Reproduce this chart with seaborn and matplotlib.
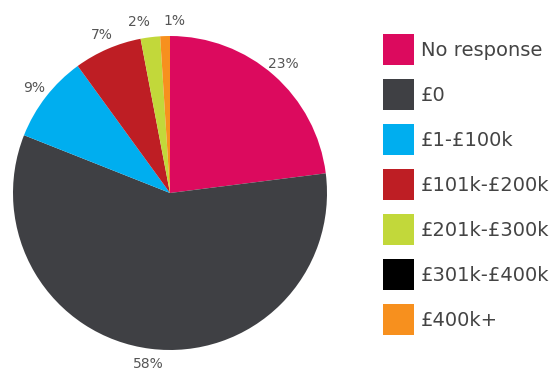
import matplotlib
matplotlib.use("Agg")
import numpy as np
import matplotlib.pyplot as plt
from matplotlib.patches import Patch
import seaborn as sns

categories = ["No response", "£0", "£1-£100k", "£101k-£200k", "£201k-£300k", "£301k-£400k", "£400k+"]
shares = [23, 58, 9, 7, 2, 0, 1]
colors = ["#DC0A5E", "#3F4044", "#00AEEF", "#BE1E24", "#C2D83A", "#000000", "#F7901E"]

sns.set_theme(style="white")
plt.rcParams["font.family"] = ["DejaVu Sans"]

W, H = 553, 374
fig = plt.figure(figsize=(W / 100, H / 100), dpi=100)
fig.patch.set_facecolor("white")

# pie occupies a square box: centre (170,193) px, radius 157 px
cx, cy, r = 170, 193, 157
ax = fig.add_axes([(cx - r) / W, (H - cy - r) / H, 2 * r / W, 2 * r / H])

wedges, _ = ax.pie(
    shares,
    colors=colors,
    startangle=90,
    counterclock=False,
    wedgeprops=dict(linewidth=0),
)
ax.set_xlim(-1, 1)
ax.set_ylim(-1, 1)
ax.set_aspect("equal")
ax.axis("off")

# percentage labels just outside each non-empty slice
label_dist = 172 / r
texts = []
for w, v in zip(wedges, shares):
    if v <= 0:
        continue
    mid = np.deg2rad((w.theta1 + w.theta2) / 2)
    t = ax.text(label_dist * np.cos(mid), label_dist * np.sin(mid), f"{v}%",
                ha="center", va="center", fontsize=10, color="#555555")
    texts.append(t)

# spread neighbouring labels that crowd each other
fig.canvas.draw()
renderer = fig.canvas.get_renderer()
min_gap = 13
for a, b in zip(texts[:-1], texts[1:]):
    ba = a.get_window_extent(renderer)
    bb = b.get_window_extent(renderer)
    if abs(ba.y0 - bb.y0) > ba.height:
        continue
    left, right = (a, b) if ba.x0 < bb.x0 else (b, a)
    bl = left.get_window_extent(renderer)
    br = right.get_window_extent(renderer)
    gap = br.x0 - bl.x1
    if gap < min_gap:
        shift = (min_gap - gap) / 2 / r
        xl, yl = left.get_position()
        xr, yr = right.get_position()
        left.set_position((xl - shift, yl))
        right.set_position((xr + shift, yr))

# legend: 31 px squares, 45 px row pitch
fs = 14
fs_px = fs * 100 / 72
sq = 31 / fs_px
hh = (sq - 0.245) / 0.65          # handle box height giving a square patch
handles = [Patch(facecolor=c, edgecolor="none") for c in colors]
leg = fig.legend(
    handles, categories,
    loc="upper left",
    bbox_to_anchor=(383 / W, 1 - 34 / H),
    bbox_transform=fig.transFigure,
    frameon=False,
    fontsize=fs,
    handlelength=sq,
    handleheight=hh,
    handletextpad=7 / fs_px,
    labelspacing=14 / fs_px,
    borderpad=0,
    borderaxespad=0,
)
for t in leg.get_texts():
    t.set_color("#444444")

fig.savefig("out.png", dpi=100, facecolor="white")
